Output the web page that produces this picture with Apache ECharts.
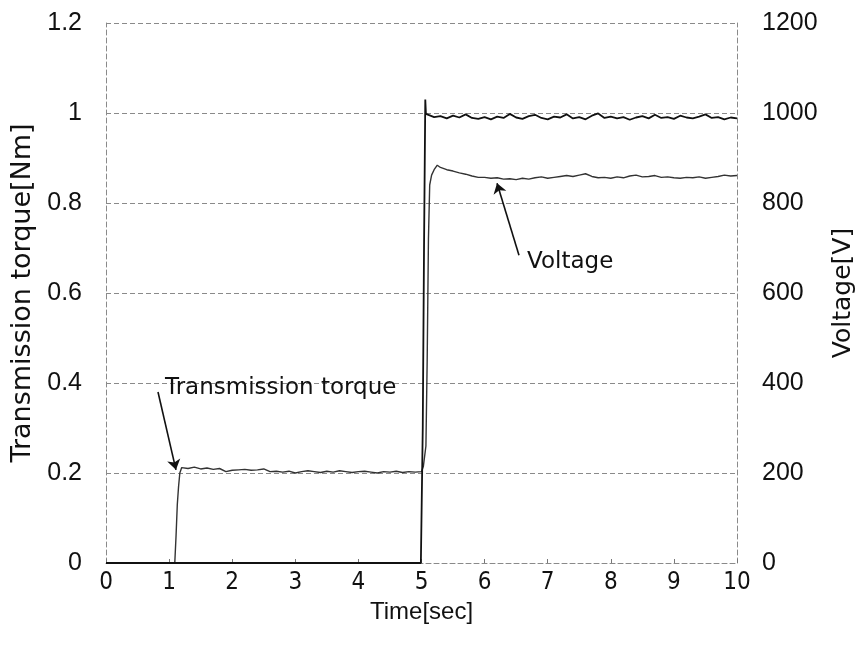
<!DOCTYPE html>
<html>
<head>
<meta charset="utf-8">
<script src="https://cdn.jsdelivr.net/npm/echarts@6/dist/echarts.min.js"></script>
<style>
html,body{margin:0;padding:0;background:#fff;}
#chart{width:856px;height:657px;}
</style>
</head>
<body>
<div id="chart"></div>
<script>
// ---- data ----
var xTicks = [0,1,2,3,4,5,6,7,8,9,10];
var torqueTicks = [0,0.2,0.4,0.6,0.8,1,1.2];
var voltageTicks = [0,200,400,600,800,1000,1200];

// Transmission torque [Nm] (left axis)
var torqueTime = [0,1.09,1.11,1.13,1.15,1.17,1.2,1.3,1.4,1.5,1.6,1.7,1.8,1.9,2.0,2.1,2.2,2.3,2.4,2.5,2.6,2.7,2.8,2.9,3.0,3.1,3.2,3.3,3.4,3.5,3.6,3.7,3.8,3.9,4.0,4.1,4.2,4.3,4.4,4.5,4.6,4.7,4.8,4.9,5.0,5.03,5.07,5.09,5.11,5.13,5.16,5.2,5.25,5.3,5.4,5.5,5.6,5.7,5.8,5.9,6.0,6.1,6.2,6.3,6.4,6.5,6.6,6.7,6.8,6.9,7.0,7.1,7.2,7.3,7.4,7.5,7.6,7.7,7.8,7.9,8.0,8.1,8.2,8.3,8.4,8.5,8.6,8.7,8.8,8.9,9.0,9.1,9.2,9.3,9.4,9.5,9.6,9.7,9.8,9.9,10.0];
var torqueValue = [0,0,0.06,0.13,0.17,0.2,0.212,0.210,0.213,0.209,0.211,0.208,0.210,0.203,0.206,0.207,0.208,0.206,0.207,0.209,0.203,0.204,0.202,0.204,0.200,0.203,0.205,0.203,0.201,0.204,0.202,0.205,0.203,0.201,0.203,0.204,0.202,0.200,0.203,0.202,0.204,0.201,0.203,0.202,0.203,0.215,0.26,0.45,0.72,0.84,0.862,0.874,0.884,0.879,0.874,0.871,0.867,0.864,0.860,0.857,0.857,0.855,0.856,0.853,0.854,0.852,0.855,0.853,0.856,0.858,0.855,0.857,0.859,0.861,0.859,0.862,0.865,0.859,0.856,0.857,0.855,0.858,0.856,0.860,0.862,0.858,0.859,0.861,0.857,0.858,0.856,0.855,0.857,0.856,0.858,0.855,0.857,0.859,0.862,0.860,0.861];

// Voltage [V] (right axis)
var voltageTime = [0,4.99,5.0,5.02,5.04,5.06,5.07,5.1,5.2,5.3,5.4,5.5,5.6,5.7,5.8,5.9,6.0,6.1,6.2,6.3,6.4,6.5,6.6,6.7,6.8,6.9,7.0,7.1,7.2,7.3,7.4,7.5,7.6,7.7,7.8,7.9,8.0,8.1,8.2,8.3,8.4,8.5,8.6,8.7,8.8,8.9,9.0,9.1,9.2,9.3,9.4,9.5,9.6,9.7,9.8,9.9,10.0];
var voltageValue = [0,0,0,300,700,1030,998,995,991,993,988,994,990,997,989,987,991,986,992,989,998,990,987,993,996,989,986,992,990,997,988,991,986,994,999,989,992,988,991,985,990,993,988,996,989,991,987,994,990,988,992,997,989,991,986,990,988];

// annotations (data coordinates on the torque axis)
var torqueLabel = {text:'Transmission torque', at:[0.935,0.389], arrowFrom:[0.824,0.380], arrowTo:[1.109,0.207]};
var voltageLabel = {text:'Voltage', at:[6.672,0.669], arrowFrom:[6.545,0.684], arrowTo:[6.197,0.844]};

function zip(a,b){ return a.map(function(v,i){ return [v,b[i]]; }); }

var chart = echarts.init(document.getElementById('chart'), null, {renderer:'canvas'});
var FONT = '"Liberation Sans", Arial, sans-serif';
var DEJA = '"DejaVu Sans", sans-serif';
var gridLine = {color:'#8a8a8a', width:1, type:[5,3]};

var option = {
  backgroundColor:'#fff',
  animation:false,
  grid:{left:106, right:119, top:23, bottom:94, outerBoundsMode:'none', containLabel:false},
  xAxis:{
    type:'value', min:0, max:10, interval:1,
    axisLine:{show:true, onZero:false, lineStyle:{color:'#8a8a8a', width:1, type:[5,3]}},
    axisTick:{show:true, inside:true, length:4, lineStyle:{color:'#777'}},
    splitLine:{show:false},
    axisLabel:{color:'#111', fontSize:24, margin:8, fontFamily:'"Liberation Sans Narrow", "DejaVu Sans Condensed", "Liberation Sans", sans-serif'},
    name:'Time[sec]', nameLocation:'middle', nameGap:37,
    nameTextStyle:{color:'#111', fontSize:24, fontFamily:FONT}
  },
  yAxis:[{
    type:'value', min:0, max:1.2, interval:0.2, position:'left',
    axisLine:{show:true, lineStyle:{color:'#8a8a8a', width:1, type:[5,3]}},
    axisTick:{show:false},
    splitLine:{show:true, lineStyle:gridLine},
    axisLabel:{color:'#111', fontSize:25, margin:24, fontFamily:FONT},
    name:'Transmission torque[Nm]', nameLocation:'middle', nameGap:62, nameRotate:90,
    nameTextStyle:{color:'#111', fontSize:27, fontFamily:DEJA}
  },{
    type:'value', min:0, max:1200, interval:200, position:'right',
    axisLine:{show:true, lineStyle:{color:'#8a8a8a', width:1, type:[5,3]}},
    axisTick:{show:false},
    splitLine:{show:false},
    axisLabel:{color:'#111', fontSize:25, margin:25, fontFamily:FONT, formatter:function(v){ return String(v); }},
    name:'Voltage[V]', nameLocation:'middle', nameGap:94, nameRotate:90,
    nameTextStyle:{color:'#111', fontSize:25, fontFamily:DEJA}
  }],
  series:[{
    name:'Transmission torque', type:'line', yAxisIndex:0,
    data:zip(torqueTime, torqueValue), showSymbol:false, symbol:'none',
    lineStyle:{color:'#333', width:1.4},
    markLine:{
      silent:true, symbol:['none','arrow'], symbolSize:10,
      lineStyle:{color:'#111', width:1.6, type:'solid'},
      label:{show:false},
      data:[
        [{coord:torqueLabel.arrowFrom},{coord:torqueLabel.arrowTo}],
        [{coord:voltageLabel.arrowFrom},{coord:voltageLabel.arrowTo}]
      ]
    }
  },{
    name:'Voltage', type:'line', yAxisIndex:1,
    data:zip(voltageTime, voltageValue), showSymbol:false, symbol:'none',
    lineStyle:{color:'#111', width:1.8}
  }]
};
chart.setOption(option);

function addLabels(){
  var items = [torqueLabel, voltageLabel].map(function(l){
    var p = chart.convertToPixel({xAxisIndex:0, yAxisIndex:0}, l.at);
    return {type:'text', x:p[0], y:p[1], style:{text:l.text, fill:'#111', font:'23px "DejaVu Sans", sans-serif', textVerticalAlign:'middle', textAlign:'left'}};
  });
  chart.setOption({graphic:items});
}
addLabels();
</script>
</body>
</html>
